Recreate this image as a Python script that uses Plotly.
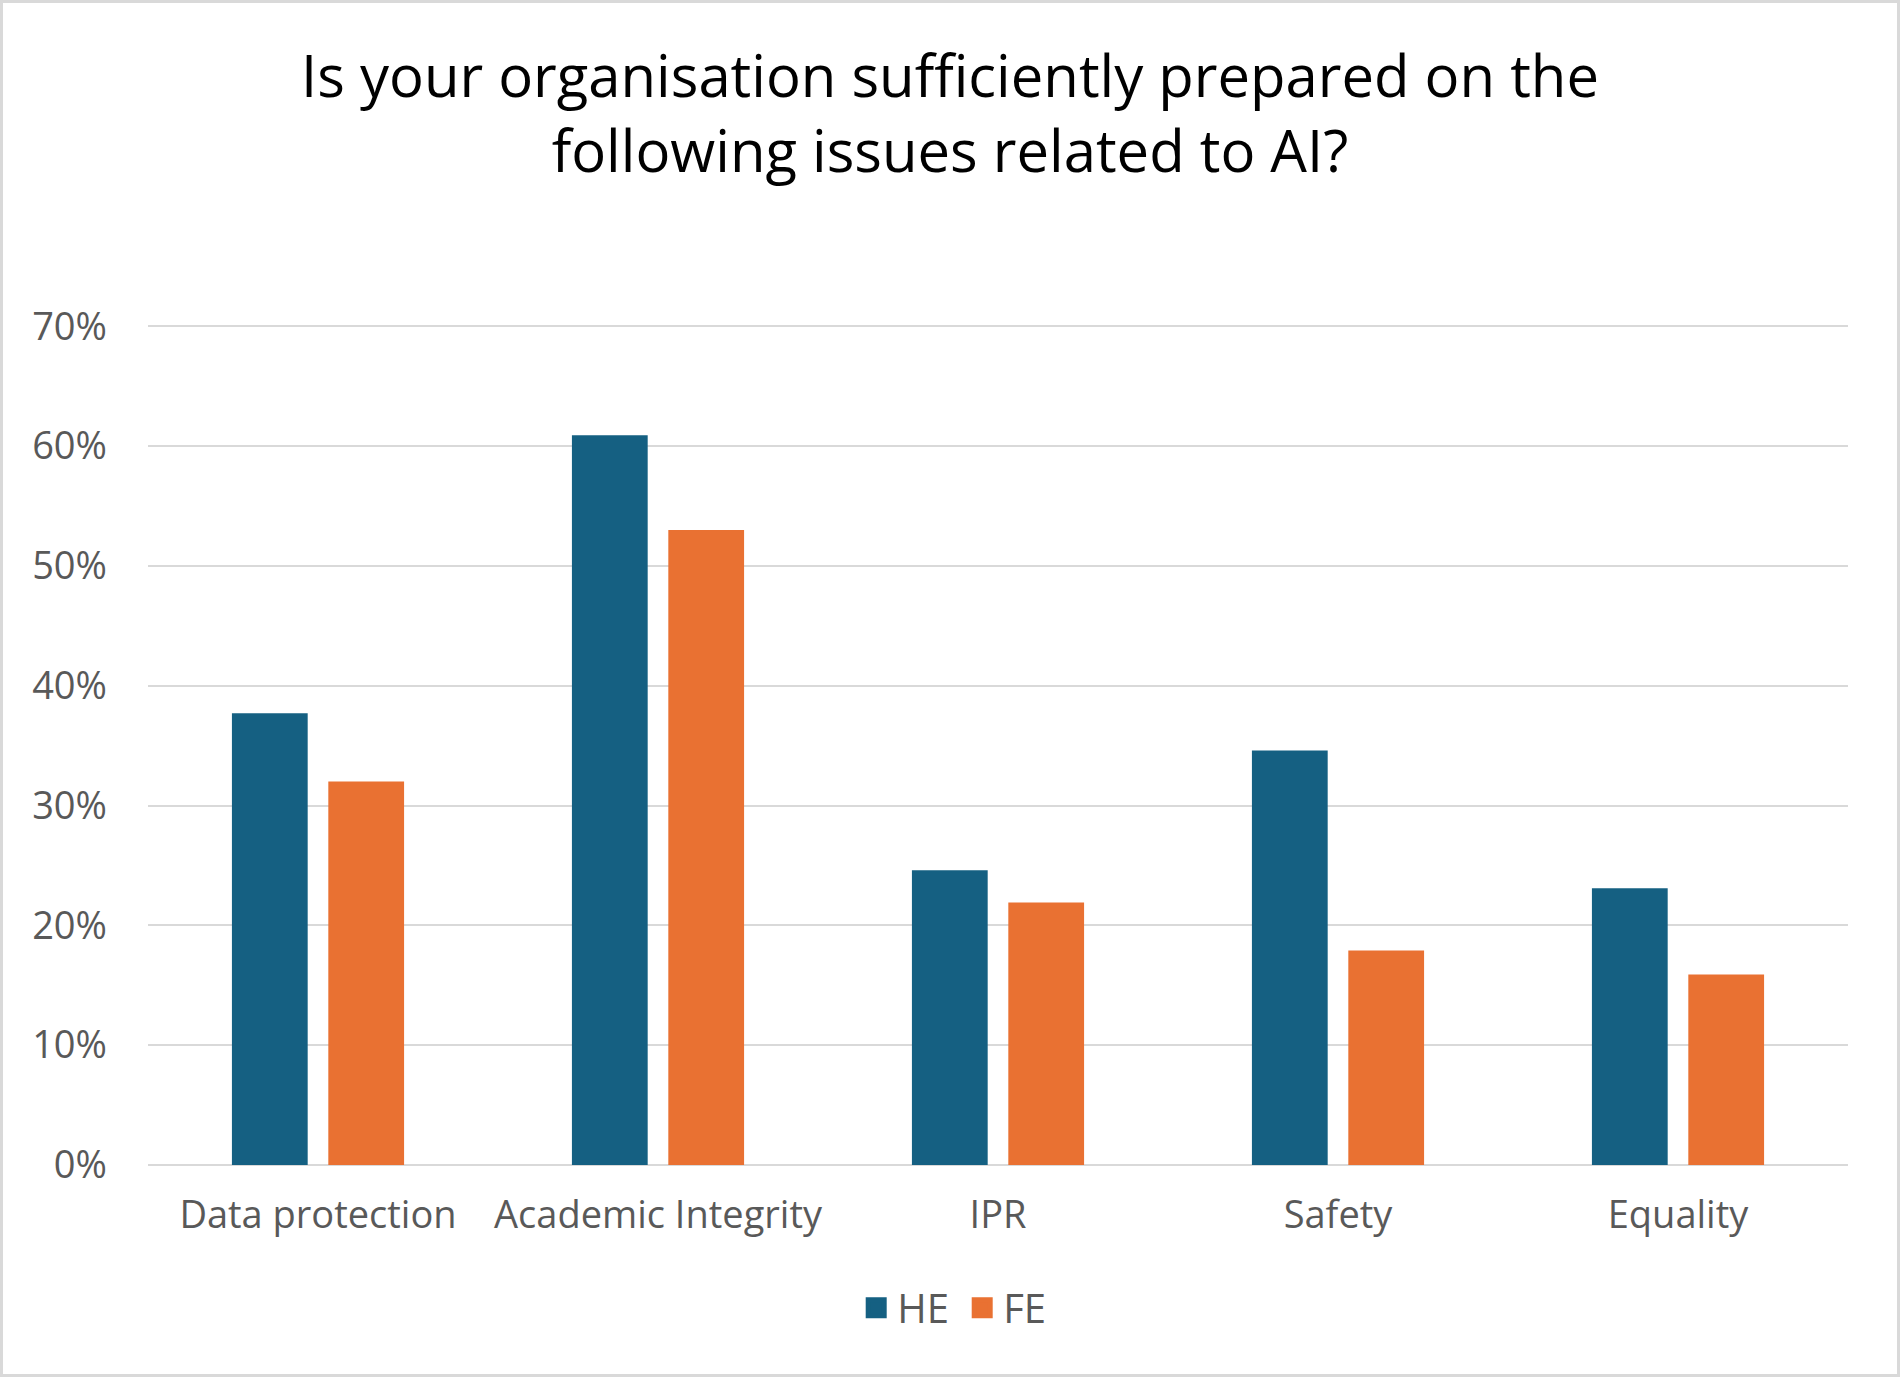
import plotly.graph_objects as go

categories = ["Data protection", "Academic Integrity", "IPR", "Safety", "Equality"]
he_values = [37.7, 60.9, 24.6, 34.6, 23.1]
fe_values = [32.0, 53.0, 21.9, 17.9, 15.9]
y_ticks = [0, 10, 20, 30, 40, 50, 60, 70]
y_tick_text = [f"{v}%" for v in y_ticks]

HE_COLOR = "#156082"
FE_COLOR = "#E97132"

W, H = 1900, 1377
L, R, T, B = 148, 52, 325, 212
FONT = "Open Sans"
AX_SIZE = 38

fig = go.Figure()
fig.add_trace(go.Bar(name="HE", x=categories, y=he_values, showlegend=False,
                     marker=dict(color=HE_COLOR, line=dict(width=0))))
fig.add_trace(go.Bar(name="FE", x=categories, y=fe_values, showlegend=False,
                     marker=dict(color=FE_COLOR, line=dict(width=0))))
# legend entries with larger square swatches
fig.add_trace(go.Scatter(name="HE", x=[None], y=[None], mode="markers",
                         marker=dict(symbol="square", size=16, color=HE_COLOR,
                                     line=dict(color=HE_COLOR, width=5))))
fig.add_trace(go.Scatter(name="FE", x=[None], y=[None], mode="markers",
                         marker=dict(symbol="square", size=16, color=FE_COLOR,
                                     line=dict(color=FE_COLOR, width=5))))

pw = W - L - R
ph = H - T - B
fig.add_shape(type="rect", xref="paper", yref="paper",
              x0=(-L + 1.5) / pw, x1=1 + (R - 1.5) / pw,
              y0=(-B + 1.5) / ph, y1=1 + (T - 1.5) / ph,
              line=dict(color="#D9D9D9", width=3), fillcolor="rgba(0,0,0,0)", layer="below")

fig.update_layout(
    width=W, height=H,
    margin=dict(l=L, r=R, t=T, b=B, pad=0),
    paper_bgcolor="white", plot_bgcolor="white",
    barmode="group", bargap=0.433, bargroupgap=0.214,
    font=dict(family=FONT, color="#595959"),
    title=dict(text="Is your organisation sufficiently prepared on the<br>following issues related to AI?",
               x=0.5, xref="container", xanchor="center",
               y=1 - 97 / H, yref="container", yanchor="middle",
               font=dict(family=FONT, size=58, color="#000000")),
    legend=dict(orientation="h", x=0.416, xanchor="left", y=-0.17, yanchor="middle",
                font=dict(family=FONT, size=40, color="#595959"), itemwidth=32,
                entrywidth=59, entrywidthmode="pixels",
                traceorder="normal", itemsizing="trace"),
    xaxis=dict(showgrid=False, showline=False, zeroline=False, ticks="",
               tickfont=dict(family=FONT, size=AX_SIZE, color="#595959"),
               ticklabelstandoff=24),
    yaxis=dict(range=[0, 70.1], tickvals=y_ticks, ticktext=y_tick_text,
               showgrid=True, gridcolor="#D9D9D9", gridwidth=2,
               zeroline=True, zerolinecolor="#D9D9D9", zerolinewidth=2,
               showline=False, ticks="",
               tickfont=dict(family=FONT, size=AX_SIZE, color="#595959"),
               ticklabelstandoff=40),
)

fig.write_html("out.html")
